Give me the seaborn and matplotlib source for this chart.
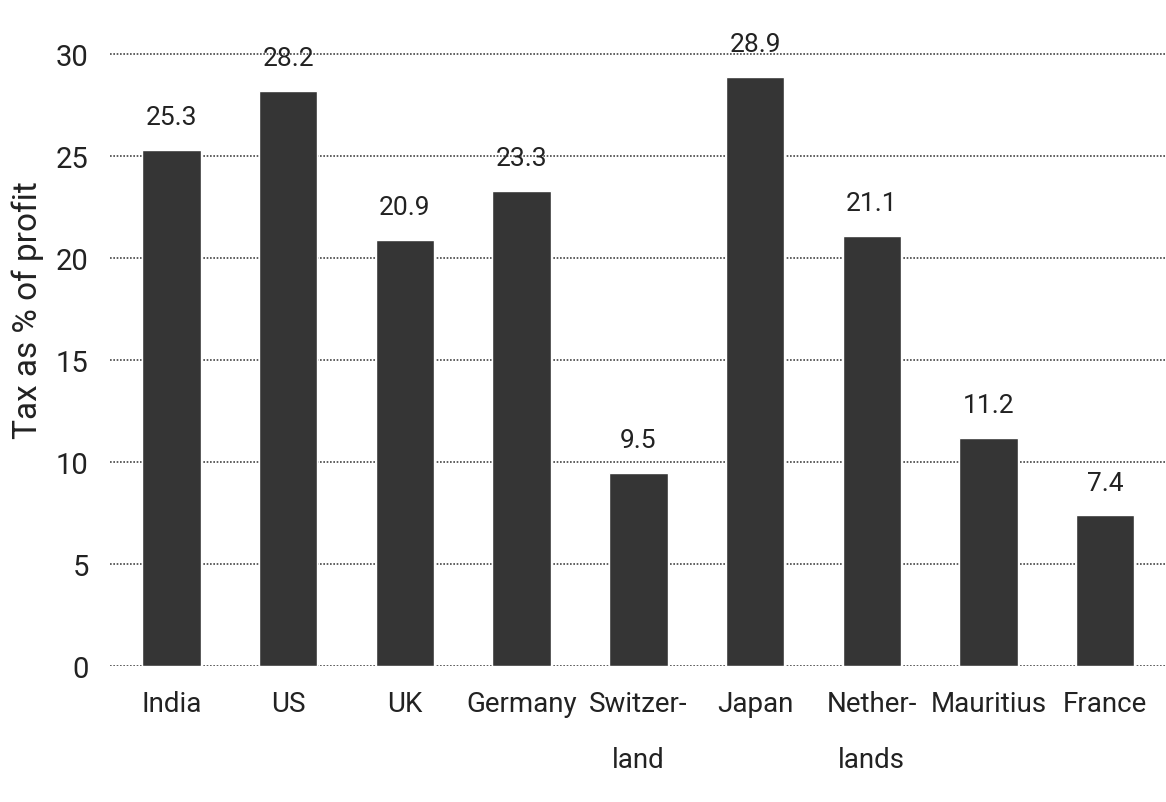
import matplotlib.pyplot as plt
import pandas as pd
import seaborn as sns

# Data
countries = ['India', 'US', 'UK', 'Germany', 'Switzer-\nland', 'Japan',
             'Nether-\nlands', 'Mauritius', 'France']
tax_pct = [25.3, 28.2, 20.9, 23.3, 9.5, 28.9, 21.1, 11.2, 7.4]
y_ticks = [0, 5, 10, 15, 20, 25, 30]

df = pd.DataFrame({'country': countries, 'tax': tax_pct})

sns.set_theme(style='white')
plt.rcParams['font.family'] = ['Roboto', 'DejaVu Sans']

fig = plt.figure(figsize=(11.66, 8.03), dpi=100)
ax = fig.add_axes([0.094, 0.169, 0.906, 0.781])

sns.barplot(data=df, x='country', y='tax', color='#353535', width=0.5,
            saturation=1, ax=ax, zorder=3)

ax.bar_label(ax.containers[0], labels=[f'{v:.1f}' for v in tax_pct],
             padding=15, fontsize=19, color='#222222')

ax.set_ylim(0, 30.75)
ax.set_xlim(-0.53, 8.52)
ax.set_yticks(y_ticks)
ax.yaxis.grid(True, linestyle=(0, (1, 1)), color='#444444', linewidth=1.2)
ax.set_axisbelow(True)
for s in ax.spines.values():
    s.set_visible(False)

ax.tick_params(axis='y', length=0, pad=15, labelsize=21, labelcolor='#222222')
ax.tick_params(axis='x', length=0, pad=17, labelsize=20, labelcolor='#222222')
for lbl in ax.get_xticklabels():
    lbl.set_linespacing(2.4)
ax.set_xlabel('')
ax.set_ylabel('Tax as % of profit', fontsize=24, color='#222222')
ax.yaxis.set_label_coords(-0.062, 0.57)

fig.savefig('out.png', dpi=100)
